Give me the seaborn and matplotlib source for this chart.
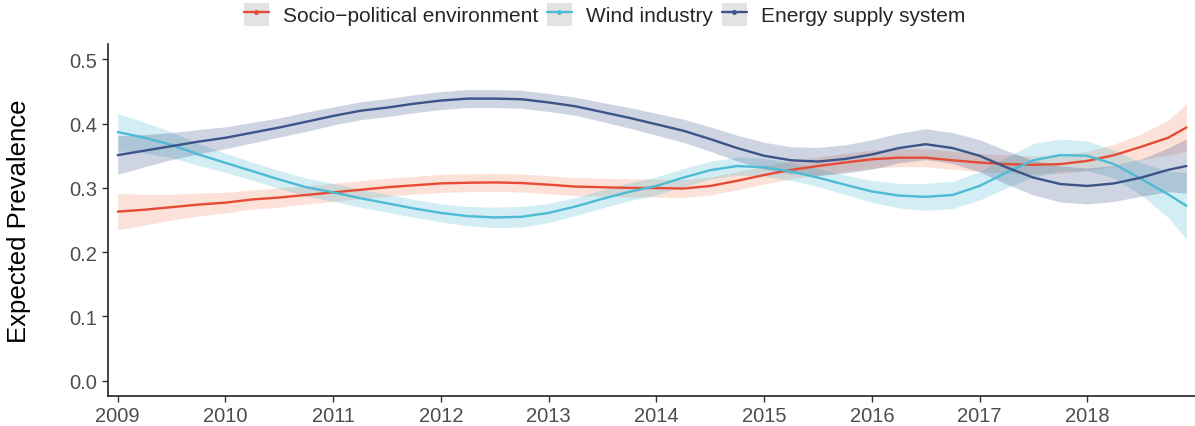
import matplotlib
matplotlib.use("Agg")
import matplotlib.pyplot as plt
import seaborn as sns
import pandas as pd
from matplotlib.lines import Line2D
from matplotlib.patches import Patch
from matplotlib.legend_handler import HandlerTuple

sns.set_style("ticks")
plt.rcParams["font.family"] = ["Liberation Sans", "DejaVu Sans"]

# quarter-year points
years = [2009, 2009.25, 2009.5, 2009.75, 2010, 2010.25, 2010.5, 2010.75,
         2011, 2011.25, 2011.5, 2011.75, 2012, 2012.25, 2012.5, 2012.75,
         2013, 2013.25, 2013.5, 2013.75, 2014, 2014.25, 2014.5, 2014.75,
         2015, 2015.25, 2015.5, 2015.75, 2016, 2016.25, 2016.5, 2016.75,
         2017, 2017.25, 2017.5, 2017.75, 2018, 2018.25, 2018.5, 2018.75, 2018.92]

socio = [0.263, 0.266, 0.270, 0.274, 0.277, 0.282, 0.285, 0.289,
         0.293, 0.297, 0.301, 0.304, 0.307, 0.308, 0.3085, 0.3075,
         0.305, 0.302, 0.301, 0.300, 0.2997, 0.299, 0.303, 0.311,
         0.320, 0.328, 0.334, 0.3395, 0.3445, 0.347, 0.347, 0.343,
         0.3395, 0.337, 0.336, 0.337, 0.342, 0.351, 0.364, 0.378, 0.394]
socioHalf = [0.028, 0.024, 0.020, 0.018, 0.016, 0.015, 0.015, 0.014,
             0.014, 0.014, 0.014, 0.014, 0.014, 0.014, 0.014, 0.014,
             0.014, 0.014, 0.014, 0.014, 0.014, 0.014, 0.014, 0.014,
             0.014, 0.014, 0.014, 0.014, 0.014, 0.014, 0.014, 0.014,
             0.014, 0.014, 0.014, 0.014, 0.015, 0.017, 0.020, 0.027, 0.037]

wind = [0.387, 0.378, 0.367, 0.352, 0.339, 0.326, 0.313, 0.301,
        0.293, 0.284, 0.276, 0.268, 0.261, 0.256, 0.254, 0.255,
        0.261, 0.271, 0.283, 0.294, 0.303, 0.316, 0.3276, 0.334,
        0.332, 0.3256, 0.316, 0.305, 0.2945, 0.288, 0.286, 0.289,
        0.303, 0.324, 0.343, 0.351, 0.350, 0.337, 0.314, 0.290, 0.272]
windHalf = [0.029, 0.024, 0.020, 0.017, 0.015, 0.014, 0.014, 0.014,
            0.014, 0.014, 0.014, 0.014, 0.014, 0.015, 0.016, 0.016,
            0.015, 0.014, 0.014, 0.014, 0.014, 0.014, 0.014, 0.014,
            0.014, 0.014, 0.014, 0.015, 0.017, 0.019, 0.021, 0.021,
            0.022, 0.024, 0.026, 0.025, 0.023, 0.022, 0.025, 0.036, 0.052]

energy = [0.351, 0.358, 0.365, 0.372, 0.378, 0.386, 0.394, 0.403,
          0.412, 0.420, 0.425, 0.431, 0.436, 0.439, 0.439, 0.438,
          0.433, 0.427, 0.418, 0.409, 0.399, 0.389, 0.376, 0.362,
          0.350, 0.343, 0.341, 0.345, 0.352, 0.362, 0.368, 0.362,
          0.350, 0.332, 0.316, 0.306, 0.303, 0.307, 0.316, 0.328, 0.334]
energyHalf = [0.030, 0.025, 0.021, 0.019, 0.017, 0.016, 0.015, 0.015,
              0.014, 0.014, 0.014, 0.014, 0.014, 0.014, 0.014, 0.014,
              0.014, 0.014, 0.015, 0.016, 0.017, 0.018, 0.019, 0.020,
              0.021, 0.021, 0.022, 0.022, 0.023, 0.023, 0.024, 0.024,
              0.025, 0.026, 0.027, 0.028, 0.028, 0.028, 0.029, 0.034, 0.042]

topics = ["Socio\u2212political environment", "Wind industry", "Energy supply system"]
colors = ["#E64B35", "#4DBBD5", "#3C5488"]
bandColors = ["#F08A60", "#4DBBD5", "#3C5488"]
yearTicks = list(range(2009, 2019))
prevTicks = [0.0, 0.1, 0.2, 0.3, 0.4, 0.5]

series = {topics[0]: (socio, socioHalf), topics[1]: (wind, windHalf), topics[2]: (energy, energyHalf)}

rows = []
for topic, (vals, half) in series.items():
    for yr, v, h in zip(years, vals, half):
        rows.append({"year": yr, "value": v, "lo": v - h, "hi": v + h, "topic": topic})
df = pd.DataFrame(rows)

fig = plt.figure(figsize=(11.95, 4.27), dpi=100)
ax = fig.add_axes([0.0904, 0.0703, 0.9096, 0.8243])

palette = dict(zip(topics, colors))
bandPalette = dict(zip(topics, bandColors))
for topic in topics:
    sub = df[df["topic"] == topic]
    ax.fill_between(sub["year"], sub["lo"], sub["hi"], color=bandPalette[topic], alpha=0.25, lw=0)

sns.lineplot(data=df, x="year", y="value", hue="topic", palette=palette, linewidth=1.7,
             legend=False, errorbar=None, ax=ax)

ax.set_xlim(2008.91, 2019.0)
ax.set_ylim(-0.024, 0.524)
ax.set_xticks(yearTicks)
ax.set_yticks(prevTicks)
ax.set_yticklabels([f"{t:.1f}" for t in prevTicks])
ax.set_xlabel("")
ax.set_ylabel("Expected Prevalence", fontsize=18.5, labelpad=28, color="black")
ax.tick_params(axis="both", labelsize=14.5, labelcolor="#4D4D4D", color="#333333", length=4, width=1)
for side in ["top", "right"]:
    ax.spines[side].set_visible(False)
for side in ["left", "bottom"]:
    ax.spines[side].set_linewidth(1.2)
    ax.spines[side].set_color("#222222")

handles = []
for c in colors:
    handles.append((Patch(facecolor="#E3E3E3", edgecolor="none"),
                    Line2D([], [], color=c, lw=1.7, marker="o", markersize=2.5)))
fig.legend(handles, topics, loc="upper center", bbox_to_anchor=(0.506, 1.02), ncol=3,
           frameon=False, fontsize=15, handlelength=1.2, handleheight=1.3,
           handletextpad=0.7, columnspacing=0.4, borderpad=0.1,
           handler_map={tuple: HandlerTuple(ndivide=1, pad=0)})

fig.savefig("out.png", dpi=100)
